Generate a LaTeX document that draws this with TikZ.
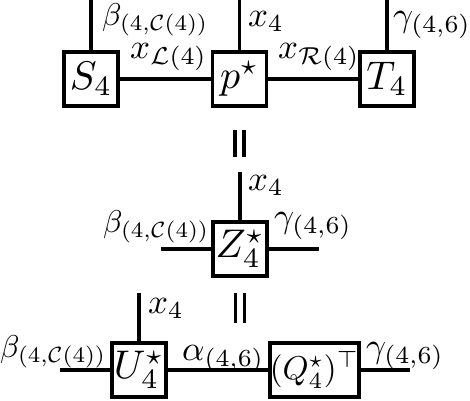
\documentclass[tikz,border=0pt]{standalone}
\usepackage{graphicx}
\usepackage{amsmath,amssymb}
\newcommand\lbl[1]{\scalebox{3.5}{$#1$}}
\newcommand\blbl[1]{\scalebox{3.15}{$#1$}}
\newcommand\bxt[1]{\scalebox{4}{$#1$}}
\begin{document}
\begin{tikzpicture}[x=1pt,y=-1pt,
  wire/.style={line width=3.6pt},
  tbox/.style={draw,line width=3.6pt,minimum width=54pt,minimum height=54pt,inner sep=0pt,fill=white},
  lab/.style={inner sep=0pt,anchor=base west}]
\useasboundingbox (0,0) rectangle (470,400);
% top row
\node[tbox] (S) at (91,79) {\bxt{S_4}};
\node[tbox] (P) at (239.5,79) {\bxt{p^\star}};
\node[tbox] (T) at (387,79) {\bxt{T_4}};
\coordinate (St) at (91,0);
\coordinate (Pt) at (239.5,0);
\coordinate (Tt) at (387,0);
\draw[wire] (St) -- (S.north);
\draw[wire] (Pt) -- (P.north);
\draw[wire] (Tt) -- (T.north);
\draw[wire] (S) -- (P);
\draw[wire] (P) -- (T);
\node[lab] (lb1) at (102,25) {\blbl{\beta_{(4,\mathcal{C}(4))}}};
\node[lab] (lx1) at (248,26) {\lbl{x_4}};
\node[lab] (lg1) at (393,26) {\lbl{\gamma_{(4,6)}}};
\node[lab] (lL) at (130,58) {\lbl{x_{\mathcal{L}(4)}}};
\node[lab] (lR) at (278,58) {\lbl{x_{\mathcal{R}(4)}}};
% equals 1
\coordinate (e1a) at (235,130); \coordinate (e1b) at (235,157);
\coordinate (e1c) at (244,130); \coordinate (e1d) at (244,157);
\draw[wire] (e1a) -- (e1b);
\draw[wire] (e1c) -- (e1d);
% middle row
\node[tbox] (Z) at (240,249) {\bxt{Z^\star_4}};
\coordinate (Zt) at (240,172);
\coordinate (Zl) at (161,249);
\coordinate (Zr) at (319,249);
\draw[wire] (Zt) -- (Z.north);
\draw[wire] (Zl) -- (Z.west);
\draw[wire] (Z.east) -- (Zr);
\node[lab] (lx2) at (248,190) {\lbl{x_4}};
\node[lab] (lb2) at (103,232) {\blbl{\beta_{(4,\mathcal{C}(4))}}};
\node[lab] (lg2) at (274,227) {\lbl{\gamma_{(4,6)}}};
% equals 2
\coordinate (e2a) at (235.5,293); \coordinate (e2b) at (235.5,323);
\coordinate (e2c) at (244.5,293); \coordinate (e2d) at (244.5,323);
\draw[wire] (e2a) -- (e2b);
\draw[wire] (e2c) -- (e2d);
% bottom row
\node[tbox] (U) at (139,370) {\bxt{U^\star_4}};
\node[tbox,minimum width=89.5pt] (Q) at (314.5,370) {\scalebox{3.3}{$(Q^\star_4)^\top$}};
\coordinate (Ut) at (139,293);
\coordinate (Ul) at (60,370);
\coordinate (Qr) at (410,370);
\draw[wire] (Ut) -- (U.north);
\draw[wire] (Ul) -- (U.west);
\draw[wire] (U) -- (Q);
\draw[wire] (Q.east) -- (Qr);
\node[lab] (lx3) at (148,313) {\lbl{x_4}};
\node[lab] (lb3) at (0,357) {\blbl{\beta_{(4,\mathcal{C}(4))}}};
\node[lab] (la3) at (182,360) {\lbl{\alpha_{(4,6)}}};
\node[lab] (lg3) at (366,357) {\lbl{\gamma_{(4,6)}}};
\end{tikzpicture}
\end{document}
